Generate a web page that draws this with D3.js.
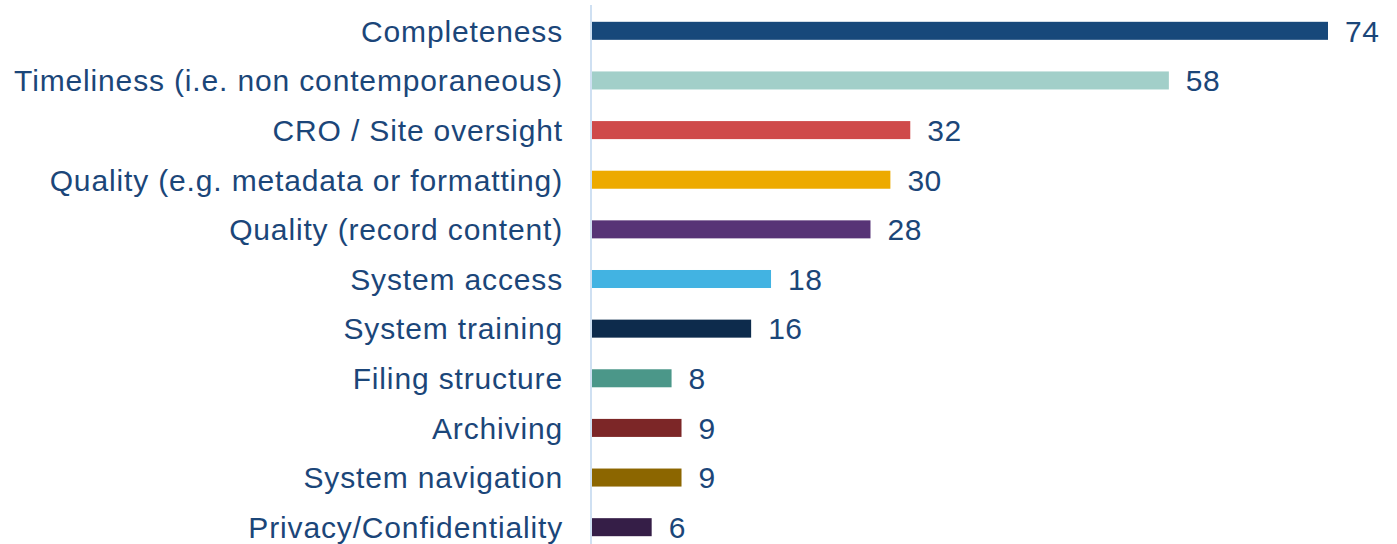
<!DOCTYPE html>
<html lang="en">
<head>
    <meta charset="UTF-8">
    <title>Issues by category</title>
    <script src="https://d3js.org/d3.v7.min.js"></script>
    <style>
        body { margin: 0; background: white; }
        svg { display: block; }
    </style>
</head>
<body>
    <svg id="chart" width="1397" height="544"></svg>
    <script>
        // Chart data
        const categories = [
            "Completeness",
            "Timeliness (i.e. non contemporaneous)",
            "CRO / Site oversight",
            "Quality (e.g. metadata or formatting)",
            "Quality (record content)",
            "System access",
            "System training",
            "Filing structure",
            "Archiving",
            "System navigation",
            "Privacy/Confidentiality"
        ];
        const counts = [74, 58, 32, 30, 28, 18, 16, 8, 9, 9, 6];
        const barColors = [
            "#17487A", "#A2CFC9", "#CF4A4A", "#EDAA00", "#573476", "#42B3E2",
            "#0D2B4C", "#4B9789", "#7C2627", "#8C6600", "#351E47"
        ];

        const textColor = "#1B4679";
        const width = 1397, height = 544;
        const x0 = 592;

        const svg = d3.select("#chart");

        const x = d3.scaleLinear()
            .domain([0, 74])
            .range([x0, 1328]);

        const y = d3.scaleBand()
            .domain(categories)
            .range([6, 552])
            .paddingInner(0.637)
            .paddingOuter(0.3185);

        // Bars
        svg.append("g")
            .selectAll("rect")
            .data(categories)
            .join("rect")
            .attr("x", x(0))
            .attr("y", d => y(d))
            .attr("width", (d, i) => x(counts[i]) - x(0))
            .attr("height", y.bandwidth())
            .attr("fill", (d, i) => barColors[i]);

        // Vertical axis line
        svg.append("line")
            .attr("x1", x0 - 1).attr("x2", x0 - 1)
            .attr("y1", 5).attr("y2", height)
            .attr("stroke", "#CFE0F2")
            .attr("stroke-width", 2);

        // Category labels
        svg.append("g")
            .attr("font-family", "'Liberation Sans', Arial, sans-serif")
            .attr("font-size", 30)
            .attr("letter-spacing", "0.85px")
            .attr("fill", textColor)
            .attr("text-anchor", "end")
            .selectAll("text")
            .data(categories)
            .join("text")
            .attr("x", 563)
            .attr("y", d => y(d) + y.bandwidth() / 2)
            .attr("dy", "0.36em")
            .text(d => d);

        // Value labels
        svg.append("g")
            .attr("font-family", "'Liberation Sans', Arial, sans-serif")
            .attr("font-size", 30)
            .attr("letter-spacing", "0.5px")
            .attr("fill", textColor)
            .selectAll("text")
            .data(categories)
            .join("text")
            .attr("x", (d, i) => x(counts[i]) + 17)
            .attr("y", d => y(d) + y.bandwidth() / 2)
            .attr("dy", "0.36em")
            .text((d, i) => counts[i]);
    </script>
</body>
</html>
